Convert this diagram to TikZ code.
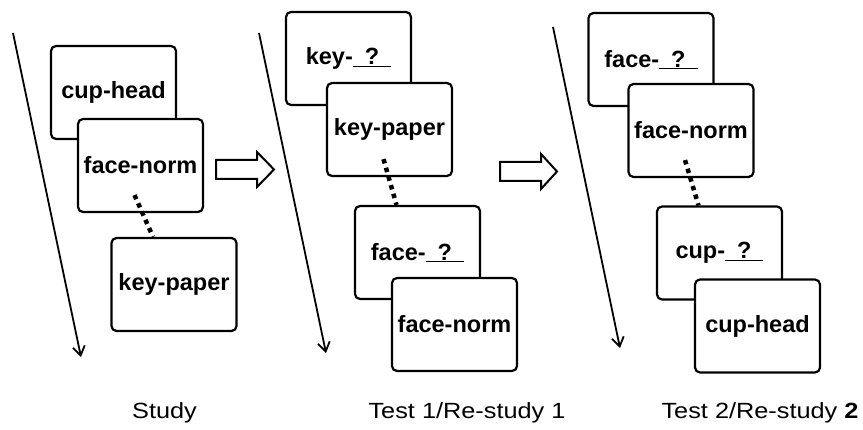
\documentclass[tikz,border=0pt]{standalone}
\usepackage{fontspec}
\setmainfont{Liberation Sans}
\newfontfamily\stagefont[FakeStretch=1.15]{Liberation Sans}
\usetikzlibrary{arrows.meta, positioning}
\tikzset{
    card/.style={draw=black, line width=2.2pt, rectangle, rounded corners=5pt, fill=white, minimum width=125pt, minimum height=93pt, inner sep=0pt, font=\fontsize{23.5}{28}\selectfont\bfseries},
    stage/.style={font=\fontsize{22}{26}\stagefont, anchor=base, inner sep=0pt},
    time/.style={draw=black, line width=1.8pt, -{Straight Barb[length=9pt, width=12pt]}},
    link/.style={draw=black, line width=4.5pt, dash pattern=on 4.5pt off 4.5pt},
    hollow/.style={draw=black, line width=2pt, fill=white, line join=miter}
}
\newcommand{\blank}{\underline{\hspace{12pt}?\hspace{12pt}}}

\begin{document}
\begin{tikzpicture}[x=1pt, y=1pt]
    \useasboundingbox (0,0) rectangle (863,429);

    % time runs down each column
    \coordinate (t1a) at (13,396);  \coordinate (t1b) at (81,72);
    \coordinate (t2a) at (259,396); \coordinate (t2b) at (326,76);
    \coordinate (t3a) at (553,402); \coordinate (t3b) at (620,81);
    \draw [time] (t1a) -- (t1b);
    \draw [time] (t2a) -- (t2b);
    \draw [time] (t3a) -- (t3b);

    % study
    \node [card] (CH) at (113.5,336.5) {cup-head};
    \node [card, below right=73pt and 27pt of CH.center, anchor=center] (FN) {face-norm};
    \node [card, below right=119pt and 33.5pt of FN.center, anchor=center] (KP) {key-paper};
    \draw [link] ([xshift=-6pt, yshift=18pt]FN.south) -- ([xshift=-21pt]KP.north);

    % test 1 / re-study 1
    \node [card] (KQ) at (348.5,370.5) {key-\blank};
    \node [card, below right=71pt and 41pt of KQ.center, anchor=center] (KP2) {key-paper};
    \node [card, below right=123pt and 28pt of KP2.center, anchor=center] (FQ) {face-\blank};
    \node [card, below right=72pt and 37pt of FQ.center, anchor=center] (FN2) {face-norm};
    \draw [link] ([xshift=-6pt, yshift=18pt]KP2.south) -- ([xshift=-21pt]FQ.north);

    % test 2 / re-study 2
    \node [card] (FQ3) at (651,369.5) {face-\blank};
    \node [card, below right=71pt and 40pt of FQ3.center, anchor=center] (FN3) {face-norm};
    \node [card, below right=122.5pt and 28.5pt of FN3.center, anchor=center] (CQ) {cup-\blank};
    \node [card, below right=73pt and 38pt of CQ.center, anchor=center] (CH3) {cup-head};
    \draw [link] ([xshift=-6pt, yshift=18pt]FN3.south) -- ([xshift=-21pt]CQ.north);

    % block arrows between the stages
    \draw [hollow] (216,250) -- ++(41,0) -- ++(0,-8) -- ++(17,17.5) -- ++(-17,17.5) -- ++(0,-8) -- ++(-41,0) -- cycle;
    \draw [hollow] (500,248) -- ++(41,0) -- ++(0,-8) -- ++(16,17.5) -- ++(-16,17.5) -- ++(0,-8) -- ++(-41,0) -- cycle;

    \node [stage] (study) at (164.5,11) {Study};
    \node [stage] (test1) at (467,11) {Test 1/Re-study 1};
    \node [stage] (test2) at (760,11) {Test 2/Re-study \textbf{2}};
\end{tikzpicture}
\end{document}
